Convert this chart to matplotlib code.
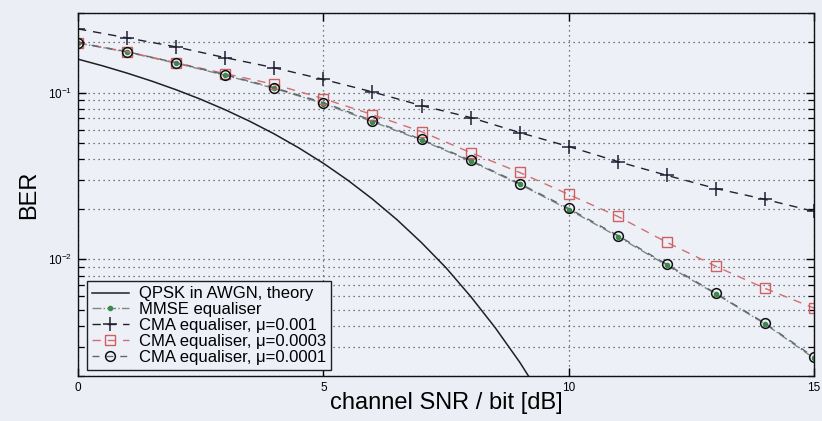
import matplotlib
matplotlib.use("Agg")
import matplotlib.pyplot as plt
from matplotlib.ticker import LogLocator, NullFormatter, FixedLocator

plt.rcParams['font.family'] = ['Liberation Sans', 'DejaVu Sans']

snr = list(range(0, 16))

theory_snr = [0, 0.5, 1, 1.5, 2, 2.5, 3, 3.5, 4, 4.5, 5, 5.5, 6, 6.5, 7, 7.5, 8, 8.5, 9, 9.5]
theory_ber = [0.1587, 0.1448, 0.1309, 0.1173, 0.1040, 0.0912, 0.0789, 0.0673, 0.0565,
              0.0466, 0.0377, 0.0298, 0.0230, 0.0173, 0.0126, 0.0089, 0.0060, 0.0039,
              0.00242, 0.00142]

mmse_ber = [0.198, 0.175, 0.150, 0.127, 0.106, 0.086, 0.067, 0.0518, 0.0388, 0.0282,
            0.0199, 0.0137, 0.0092, 0.0062, 0.0041, 0.00255]
cma_001 = [0.241, 0.213, 0.188, 0.162, 0.141, 0.120, 0.101, 0.0836, 0.0709, 0.0576,
           0.0475, 0.0386, 0.0319, 0.0266, 0.0229, 0.0194]
cma_0003 = [0.199, 0.176, 0.151, 0.130, 0.112, 0.092, 0.0738, 0.0583, 0.0437, 0.0332,
            0.0245, 0.0181, 0.01265, 0.00908, 0.0067, 0.0051]
cma_0001 = [0.199, 0.176, 0.151, 0.128, 0.107, 0.0871, 0.068, 0.0524, 0.0392, 0.0285,
            0.0202, 0.0139, 0.00933, 0.00625, 0.00414, 0.00259]

labels = ["QPSK in AWGN, theory", "MMSE equaliser", "CMA equaliser, \u03bc=0.001",
          "CMA equaliser, \u03bc=0.0003", "CMA equaliser, \u03bc=0.0001"]

bg = '#eceef6'
fig = plt.figure(figsize=(8.22, 4.21), dpi=100, facecolor=bg)
ax = fig.add_axes([0.0949, 0.107, 0.8955, 0.862], facecolor='#eef0f8')

ax.semilogy(theory_snr, theory_ber, '-', color='#202020', lw=1.1, label=labels[0])
ax.semilogy(snr, mmse_ber, '-.', color='#7a8a80', marker='.', mfc='#3a8a4a', mec='#3a8a4a',
            ms=6, lw=1.0, label=labels[1])
ax.semilogy(snr, cma_001, '--', color='#202030', marker='+', ms=10, mew=1.1, lw=1.0,
            dashes=(6, 5), label=labels[2])
ax.semilogy(snr, cma_0003, '--', color='#d07070', marker='s', mfc='none', mec='#d06060',
            ms=7, mew=1.0, lw=1.0, dashes=(6, 5), label=labels[3])
ax.semilogy(snr, cma_0001, '--', color='#606870', marker='o', mfc='none', mec='#101010',
            ms=7, mew=1.1, lw=1.0, dashes=(5, 5), label=labels[4])

ax.set_xlim(0, 15)
ax.set_ylim(0.002, 0.3)
ax.xaxis.set_major_locator(FixedLocator([0, 5, 10, 15]))
ax.yaxis.set_major_locator(LogLocator(base=10, numticks=10))
ax.yaxis.set_minor_locator(LogLocator(base=10, subs=range(2, 10), numticks=20))
ax.yaxis.set_minor_formatter(NullFormatter())

grid_style = dict(linestyle=(0, (1, 3)), color='#505050', lw=0.9)
ax.grid(True, which='major', axis='both', **grid_style)
ax.grid(True, which='minor', axis='y', **grid_style)

ax.tick_params(which='both', direction='in', top=True, right=True, labelsize=8.5, pad=4)
ax.tick_params(which='major', length=6, width=1)
ax.tick_params(which='minor', length=4, width=0.9)
for s in ax.spines.values():
    s.set_linewidth(1.0)
    s.set_color('#111111')

ax.set_xlabel("channel SNR / bit [dB]", fontsize=17, labelpad=-1)
ax.set_ylabel("BER", fontsize=17, labelpad=6)

leg = ax.legend(loc='lower left', bbox_to_anchor=(0.012, 0.017), borderaxespad=0,
                fontsize=12, frameon=True, fancybox=False, handlelength=2.2,
                labelspacing=0.05, borderpad=0.3, handletextpad=0.6)
leg.get_frame().set_edgecolor('#202020')
leg.get_frame().set_facecolor('#eef0f8')
leg.get_frame().set_alpha(1)
leg.get_frame().set_linewidth(1.0)

fig.savefig("out.png", dpi=100, facecolor=bg)
